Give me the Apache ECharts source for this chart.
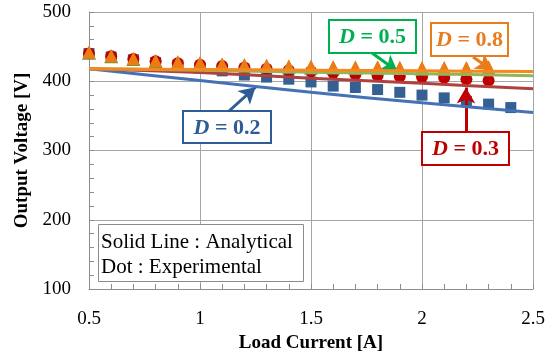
<!DOCTYPE html>
<html><head><meta charset="utf-8">
<script src="https://cdn.jsdelivr.net/npm/echarts@6/dist/echarts.min.js"></script>
<style>html,body{margin:0;padding:0;background:#fff}#c{width:557px;height:359px}</style>
</head><body><div id="c"></div>
<script>
// ---- data ----
const currentExp = [0.5,0.6,0.7,0.8,0.9,1.0,1.1,1.2,1.3,1.4,1.5,1.6,1.7,1.8,1.9,2.0,2.1,2.2,2.3,2.4];
const expD02 = [440,435,431,427,423,419,415,409,406,403,399,393,391,388,384,380,376,371,367,362];
const expD03 = [440,436,432,429,426,424,422,420,418,416,414,412,410,408,407,406,405,403,401];
const expD05 = [441,436,432,429,427,425,424,423,422,421,420,420,419,419,419,418,418,418,418];
const expD08 = [442,437,433,430,428,427,425,424,423,422,422,421,421,421,420,420,420,420,421];
const currentAna = [0.5,1.0,1.5,2.0,2.5];
const anaD02 = [418,401,384,369,355];
const anaD03 = [418,412.5,404.5,397,389];
const anaD05 = [418,416,413,411,408];
const anaD08 = [418,417,416,415,414];
const xTicks = [0.5,1,1.5,2,2.5];
const yTicks = [100,200,300,400,500];

const FONT = "'Liberation Serif','Times New Roman',serif";
const pair = (xs, ys) => ys.map((v,i)=>[xs[i], v]);

const C = {
  blueM:'#366092', redM:'#C00000', greenM:'#77933C', orangeM:'#EE7A12',
  blueL:'#4472B4', redL:'#B0413E', greenL:'#93B55A', orangeL:'#F5891F',
  t02:'#2E5C96', t03:'#C00000', t05:'#00B050', t08:'#E87D1E'
};

function arrow(from, to, color){
  return [{coord:from, lineStyle:{color:color,width:3,type:'solid',opacity:1}, itemStyle:{color:color}, symbol:'none'},{coord:to, symbol:'arrow'}];
}

const chart = echarts.init(document.getElementById('c'), null, {renderer:'canvas'});

const axisCommon = {
  axisLine:{show:true, lineStyle:{color:'#8C8C8C', width:1}},
  axisTick:{show:true, inside:true, length:5, lineStyle:{color:'#8C8C8C'}},
  minorTick:{show:true, splitNumber:5, length:5, lineStyle:{color:'#8C8C8C'}},
  splitLine:{show:true, lineStyle:{color:'#A6A6A6', width:1}},
};

const ml = (from, to, color) => ({silent:true, symbolSize:[14,16], label:{show:false}, emphasis:{disabled:true},
  lineStyle:{type:'solid', width:3, color:color, opacity:1}, data:[arrow(from, to, color)]});

const option = {
  animation:false,
  backgroundColor:'#fff',
  grid:{left:89, right:24, top:12, bottom:70, containLabel:false},
  xAxis:Object.assign({
    type:'value', min:xTicks[0], max:xTicks[xTicks.length-1], interval:0.5,
    axisLabel:{fontFamily:FONT, fontSize:19, color:'#000', margin:21},
    name:'Load Current [A]', nameLocation:'middle', nameGap:40,
    nameTextStyle:{fontFamily:FONT, fontSize:19, fontWeight:'bold', color:'#000'}
  }, axisCommon),
  yAxis:Object.assign({
    type:'value', min:yTicks[0], max:yTicks[yTicks.length-1], interval:100,
    axisLabel:{fontFamily:FONT, fontSize:19, color:'#000', margin:18},
    name:'Output Voltage [V]', nameLocation:'middle', nameGap:57,
    nameTextStyle:{fontFamily:FONT, fontSize:19, fontWeight:'bold', color:'#000'}
  }, axisCommon),
  series:[
    {type:'scatter', name:'D=0.2 exp', data:pair(currentExp, expD02), symbol:'rect', symbolSize:11, itemStyle:{color:C.blueM, opacity:1}, z:2},
    {type:'scatter', name:'D=0.3 exp', data:pair(currentExp, expD03), symbol:'circle', symbolSize:12, itemStyle:{color:C.redM, opacity:1}, z:3},
    {type:'scatter', name:'D=0.5 exp', data:pair(currentExp, expD05), symbol:'triangle', symbolSize:14, itemStyle:{color:C.greenM, opacity:1}, z:4},
    {type:'scatter', name:'D=0.8 exp', data:pair(currentExp, expD08), symbol:'triangle', symbolSize:13, itemStyle:{color:C.orangeM, opacity:1}, z:5},
    {type:'line', name:'D=0.2', data:pair(currentAna, anaD02), smooth:0.3, showSymbol:false, lineStyle:{color:C.blueL, width:3}, z:6,
      markLine:ml([1.126,355.6],[1.25,391.5],C.t02)},
    {type:'line', name:'D=0.3', data:pair(currentAna, anaD03), smooth:0.3, showSymbol:false, lineStyle:{color:C.redL, width:3}, z:7,
      markLine:ml([2.198,326.7],[2.198,391],C.t03)},
    {type:'line', name:'D=0.5', data:pair(currentAna, anaD05), smooth:0.3, showSymbol:false, lineStyle:{color:C.greenL, width:3}, z:8,
      markLine:ml([1.775,440.8],[1.89,414],C.t05)},
    {type:'line', name:'D=0.8', data:pair(currentAna, anaD08), smooth:0.3, showSymbol:false, lineStyle:{color:C.orangeL, width:3}, z:9,
      markLine:ml([2.23,435],[2.315,416],C.t08)}
  ],
  graphic:[]
};

function box(x, y, w, h, label, color){
  return [
    {type:'rect', z:100, shape:{x:x, y:y, width:w, height:h}, style:{fill:'#fff', stroke:color, lineWidth:2}},
    {type:'text', z:101, x:x+w/2, y:y+h/2+1, style:{
      text:'{i|D} {b|= ' + label + '}', align:'center', verticalAlign:'middle',
      rich:{
        i:{fontFamily:FONT, fontStyle:'italic', fontWeight:'bold', fontSize:22, fill:color},
        b:{fontFamily:FONT, fontWeight:'bold', fontSize:22, fill:color}
      },
      fontFamily:FONT, fontSize:22, fill:color
    }}
  ];
}
option.graphic = [].concat(
  box(329, 20, 87, 33, '0.5', C.t05),
  box(431, 23, 77, 33, '0.8', C.t08),
  box(183, 111, 88, 32, '0.2', C.t02),
  box(422, 132, 87, 33, '0.3', C.t03),
  [
    {type:'rect', z:100, shape:{x:98.5, y:224.5, width:205, height:57}, style:{fill:'#fff', stroke:'#8C8C8C', lineWidth:1}},
    {type:'text', z:101, x:101, y:242, style:{text:'Solid Line : Analytical', fontFamily:FONT, fontSize:21, fill:'#000', verticalAlign:'middle'}},
    {type:'text', z:101, x:101, y:267, style:{text:'Dot : Experimental', fontFamily:FONT, fontSize:21, fill:'#000', verticalAlign:'middle'}}
  ]
);
chart.setOption(option);
</script>
</body></html>
